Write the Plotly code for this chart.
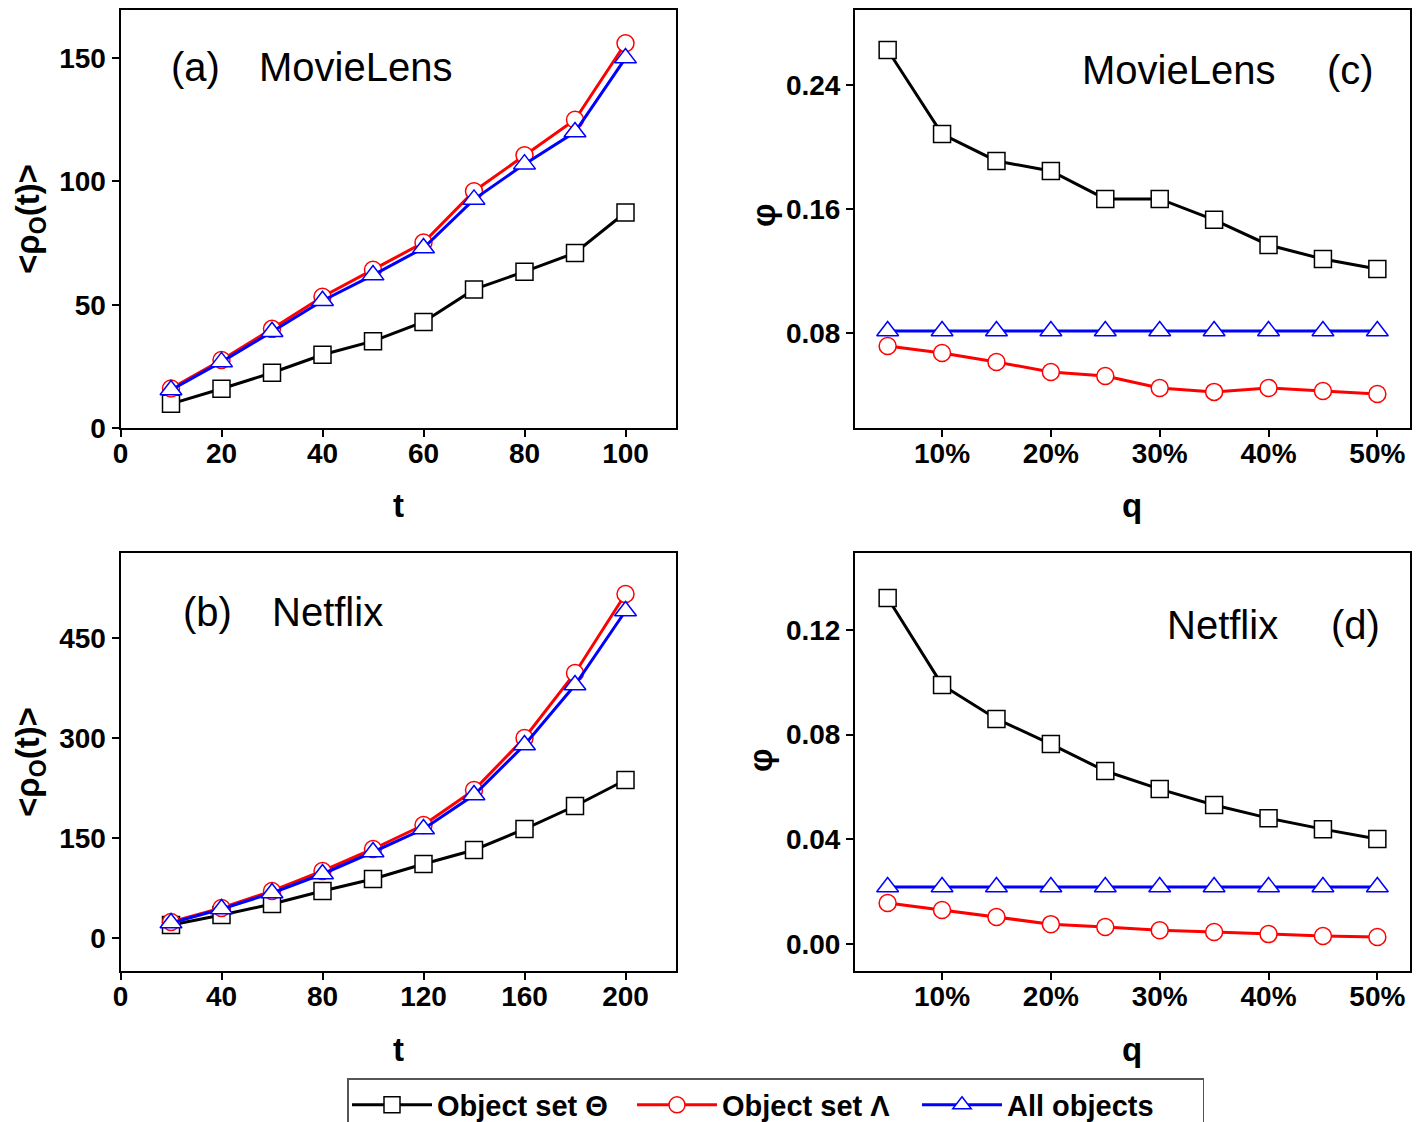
import plotly.graph_objects as go

# ---------------- data ----------------
t_ml = [10, 20, 30, 40, 50, 60, 70, 80, 90, 100]
ml_theta = [9.8, 15.9, 22.4, 29.7, 35.2, 43.0, 56.2, 63.4, 71.0, 87.4]
ml_lambda = [16.0, 27.6, 40.2, 53.2, 64.2, 75.2, 96.0, 110.6, 125.0, 156.0]
ml_all = [15.4, 26.8, 39.0, 51.6, 62.0, 73.0, 92.7, 107.0, 120.0, 150.0]

t_nf = [20, 40, 60, 80, 100, 120, 140, 160, 180, 200]
nf_theta = [19.5, 34.5, 51.0, 70.5, 88.5, 111.0, 132.0, 163.5, 198.0, 237.0]
nf_lambda = [24.0, 45.0, 70.5, 100.5, 133.5, 169.5, 222.0, 300.0, 397.5, 516.0]
nf_all = [22.5, 43.5, 67.5, 96.0, 129.0, 163.5, 214.5, 289.5, 379.5, 490.5]

q = [5, 10, 15, 20, 25, 30, 35, 40, 45, 50]
q_ticks = [10, 20, 30, 40, 50]
q_ticktext = ["10%", "20%", "30%", "40%", "50%"]

phi_ml_theta = [0.2626, 0.2084, 0.1910, 0.1845, 0.1665, 0.1665, 0.1530, 0.1368, 0.1277, 0.1213]
phi_ml_lambda = [0.0716, 0.0671, 0.0613, 0.0548, 0.0523, 0.0445, 0.0420, 0.0445, 0.0426, 0.0406]
phi_ml_all = [0.0813] * 10

phi_nf_theta = [0.1322, 0.0990, 0.0860, 0.0764, 0.0661, 0.0592, 0.0531, 0.0481, 0.0439, 0.0401]
phi_nf_lambda = [0.0157, 0.0130, 0.0103, 0.0076, 0.0065, 0.0053, 0.0046, 0.0038, 0.0031, 0.0027]
phi_nf_all = [0.0218] * 10

series_names = ["Object set \u0398", "Object set \u039b", "All objects"]

# ---------------- styling ----------------
FONT = "Liberation Sans"
colors = ["black", "red", "blue"]
symbols = ["square", "circle", "triangle-up"]
msizes = [17, 17, 19]

W, H = 1423, 1122
def px(x):
    return x / W
def py(y):
    return 1 - y / H

dom_x_left = [px(120.5), px(676)]
dom_x_right = [px(855), px(1410)]
dom_y_top = [py(428), py(10)]
dom_y_bot = [py(971), py(553)]

fig = go.Figure()

panels = [
    ("x", "y", t_ml, [ml_theta, ml_lambda, ml_all], True),
    ("x2", "y2", q, [phi_ml_theta, phi_ml_lambda, phi_ml_all], False),
    ("x3", "y3", t_nf, [nf_theta, nf_lambda, nf_all], False),
    ("x4", "y4", q, [phi_nf_theta, phi_nf_lambda, phi_nf_all], False),
]

for xa, ya, xs, ys_list, show in panels:
    for i, ys in enumerate(ys_list):
        fig.add_trace(go.Scatter(
            x=xs, y=ys, xaxis=xa, yaxis=ya, mode="lines+markers",
            name=series_names[i], showlegend=show, legendgroup=series_names[i],
            line=dict(color=colors[i], width=3),
            marker=dict(symbol=symbols[i], size=msizes[i], color="white",
                        line=dict(width=1.5, color=colors[i])),
        ))

tickfont = dict(family=FONT, size=28, color="black", weight="bold")
common = dict(showline=True, linecolor="black", linewidth=2, mirror=True,
              ticks="outside", ticklen=7, tickwidth=2, tickcolor="black",
              showgrid=False, zeroline=False, tickfont=tickfont)
xcommon = dict(common, ticklabelstandoff=-8)

fig.update_layout(
    width=W, height=H,
    margin=dict(l=0, r=0, t=0, b=0, autoexpand=False),
    paper_bgcolor="white", plot_bgcolor="white",
    xaxis=dict(domain=dom_x_left, anchor="y", range=[0, 110],
               tickvals=[0, 20, 40, 60, 80, 100], **xcommon),
    yaxis=dict(domain=dom_y_top, anchor="x", range=[0, 169.5],
               tickvals=[0, 50, 100, 150], **common),
    xaxis2=dict(domain=dom_x_right, anchor="y2", range=[2, 53],
                tickvals=q_ticks, ticktext=q_ticktext, **xcommon),
    yaxis2=dict(domain=dom_y_top, anchor="x2", range=[0.0187, 0.2884],
                tickvals=[0.08, 0.16, 0.24], ticktext=["0.08", "0.16", "0.24"], **common),
    xaxis3=dict(domain=dom_x_left, anchor="y3", range=[0, 220],
                tickvals=[0, 40, 80, 120, 160, 200], **xcommon),
    yaxis3=dict(domain=dom_y_bot, anchor="x3", range=[-49.5, 577.5],
                tickvals=[0, 150, 300, 450], **common),
    xaxis4=dict(domain=dom_x_right, anchor="y4", range=[2, 53],
                tickvals=q_ticks, ticktext=q_ticktext, **xcommon),
    yaxis4=dict(domain=dom_y_bot, anchor="x4", range=[-0.0103, 0.1494],
                tickvals=[0.0, 0.04, 0.08, 0.12], ticktext=["0.00", "0.04", "0.08", "0.12"], **common),
    legend=dict(orientation="h", x=px(347), y=py(1078), xanchor="left", yanchor="top",
                bgcolor="white", bordercolor="#555", borderwidth=1.5,
                font=dict(family=FONT, size=29, color="black", weight="bold"),
                itemwidth=80, entrywidth=190, entrywidthmode="pixels", tracegroupgap=0),
    showlegend=True,
)

def ann(text, x, y, size, bold=False, angle=0):
    fig.add_annotation(text=text, x=px(x), y=py(y), xref="paper", yref="paper",
                       showarrow=False, textangle=angle, xanchor="center", yanchor="middle",
                       font=dict(family=FONT, size=size, color="black",
                                 weight="bold" if bold else "normal"))

# panel labels
ann("(a)", 195, 67, 40)
ann("MovieLens", 355, 67, 40)
ann("MovieLens", 1178, 70, 40)
ann("(c)", 1350, 70, 40)
ann("(b)", 207, 612, 40)
ann("Netflix", 327, 612, 40)
ann("Netflix", 1222, 625, 40)
ann("(d)", 1355, 625, 40)

# axis titles
ann("t", 398, 505, 33, bold=True)
ann("q", 1132, 505, 33, bold=True)
ann("t", 398, 1049, 33, bold=True)
ann("q", 1132, 1049, 33, bold=True)
ann("&lt;\u03c1<sub>O</sub>(t)&gt;", 30, 219, 33, bold=True, angle=-90)
ann("&lt;\u03c1<sub>O</sub>(t)&gt;", 30, 762, 33, bold=True, angle=-90)
ann("\u03c6", 763, 215, 33, bold=True, angle=-90)
ann("\u03c6", 760, 760, 33, bold=True, angle=-90)

fig.write_html("out.html")
